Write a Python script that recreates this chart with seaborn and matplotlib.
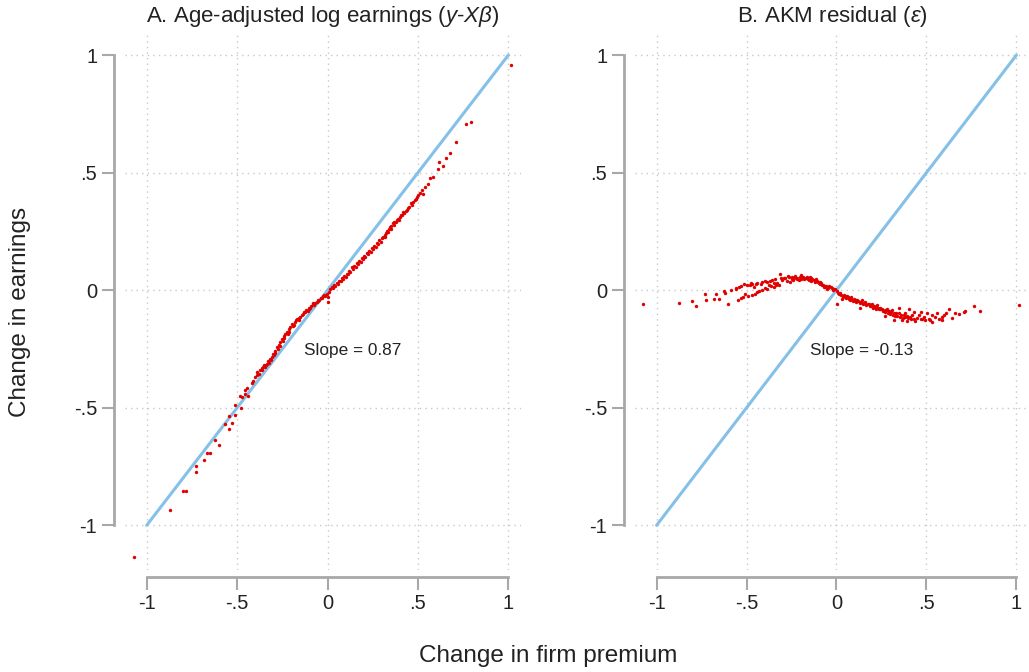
import numpy as np
import pandas as pd
import matplotlib
matplotlib.use("Agg")
import matplotlib.pyplot as plt
import seaborn as sns

# panel A: age-adjusted log earnings vs change in firm premium
a_x = [-1.070, -0.873, -0.802, -0.780, -0.729, -0.729, -0.683, -0.669, -0.651, -0.623,
       -0.599, -0.568, -0.544, -0.531, -0.544, -0.512, -0.512, -0.481, -0.475, -0.485,
       -0.455, -0.444, -0.457, -0.439, -0.420, -0.411, -0.402, -0.392, -0.389, -0.378,
       -0.372, -0.365, -0.360, -0.356, -0.350, -0.345, -0.337, -0.330, -0.325, -0.318,
       -0.309, -0.302, -0.296, -0.288, -0.281, -0.275, -0.268, -0.262, -0.254, -0.248,
       -0.240, -0.233, -0.226, -0.220, -0.212, -0.205, -0.198, -0.190, -0.182, -0.175,
       -0.167, -0.160, -0.152, -0.143, -0.134, -0.126, -0.118, -0.110, -0.102, -0.097,
       -0.090, -0.082, -0.075, -0.068, -0.060, -0.053, -0.045, -0.038, -0.032, -0.025,
       -0.018, -0.012, -0.005, 0.001, 0.004,
       -0.340, -0.315, -0.290, -0.265, -0.238, -0.214, -0.186, -0.158, -0.130, -0.105,
       -0.078, -0.050,
       0.010, 0.016, 0.023, 0.030, 0.037, 0.044, 0.051, 0.058, 0.065, 0.072,
       0.079, 0.086, 0.093, 0.100, 0.106, 0.113, 0.120, 0.127, 0.134, 0.141,
       0.148, 0.155, 0.162, 0.169, 0.176, 0.183, 0.189, 0.196, 0.203, 0.210,
       0.217, 0.224, 0.231, 0.238, 0.245, 0.252, 0.259, 0.266, 0.273, 0.280,
       0.287, 0.293, 0.300, 0.308, 0.316, 0.324, 0.331, 0.338, 0.346, 0.353,
       0.361, 0.370, 0.383, 0.392, 0.402, 0.413, 0.424, 0.439, 0.452, 0.466,
       0.475, 0.490, 0.503, 0.522, 0.527, 0.540, 0.558, 0.568, 0.586, 0.611,
       0.619, 0.636, 0.655, 0.679, 0.712, 0.766, 0.795, 1.014,
       0.318, 0.335, 0.350, 0.365, 0.378, 0.395, 0.408, 0.420, 0.432, 0.446,
       0.460, 0.483, 0.497, 0.512]
a_y = [-1.134, -0.933, -0.853, -0.853, -0.749, -0.773, -0.721, -0.692, -0.692, -0.635,
       -0.657, -0.569, -0.590, -0.566, -0.533, -0.490, -0.529, -0.502, -0.455, -0.452,
       -0.426, -0.417, -0.443, -0.448, -0.395, -0.387, -0.370, -0.362, -0.348, -0.355,
       -0.340, -0.330, -0.338, -0.327, -0.318, -0.325, -0.312, -0.300, -0.308, -0.292,
       -0.284, -0.270, -0.276, -0.258, -0.241, -0.250, -0.232, -0.222, -0.206, -0.216,
       -0.196, -0.188, -0.178, -0.186, -0.165, -0.158, -0.145, -0.152, -0.136, -0.128,
       -0.121, -0.128, -0.112, -0.104, -0.100, -0.092, -0.084, -0.090, -0.076, -0.074,
       -0.066, -0.060, -0.064, -0.054, -0.050, -0.046, -0.040, -0.034, -0.032, -0.026,
       -0.020, -0.024, -0.014, -0.029, -0.050,
       -0.318, -0.298, -0.266, -0.238, -0.202, -0.176, -0.146, -0.118, -0.094, -0.082,
       -0.056, -0.042,
       -0.008, 0.004, 0.014, 0.010, 0.022, 0.018, 0.031, 0.028, 0.040, 0.038,
       0.050, 0.046, 0.060, 0.056, 0.071, 0.068, 0.082, 0.078, 0.097, 0.090,
       0.104, 0.100, 0.114, 0.110, 0.124, 0.121, 0.135, 0.131, 0.146, 0.142,
       0.159, 0.154, 0.168, 0.164, 0.178, 0.174, 0.188, 0.185, 0.199, 0.196,
       0.212, 0.206, 0.220, 0.226, 0.234, 0.242, 0.250, 0.262, 0.267, 0.272,
       0.284, 0.290, 0.299, 0.305, 0.313, 0.322, 0.330, 0.341, 0.356, 0.362,
       0.377, 0.388, 0.405, 0.426, 0.409, 0.441, 0.452, 0.476, 0.483, 0.515,
       0.547, 0.529, 0.564, 0.583, 0.630, 0.707, 0.715, 0.959,
       0.228, 0.246, 0.262, 0.276, 0.292, 0.300, 0.320, 0.334, 0.338, 0.350,
       0.372, 0.384, 0.398, 0.412]

# panel B: AKM residual vs change in firm premium
b_x = [-1.074, -0.876, -0.802, -0.783, -0.733, -0.728, -0.681, -0.654, -0.672, -0.626,
       -0.620, -0.602, -0.589, -0.561, -0.543, -0.548, -0.533, -0.515, -0.506, -0.481,
       -0.478, -0.459, -0.450, -0.468, -0.441, -0.422, -0.413, -0.413, -0.385, -0.376,
       -0.385, -0.357, -0.348, -0.348, -0.330, -0.321, -0.315, -0.302, -0.293, -0.274,
       -0.265, -0.256, -0.237, -0.228, -0.209, -0.200, -0.191, -0.172, -0.163, -0.154,
       -0.144, -0.126, -0.117, -0.107, -0.098, -0.089, -0.079, -0.071, -0.061, -0.052,
       -0.033, -0.015, 0.004, 0.013, 0.022, 0.004, 0.031, 0.041, 0.059, 0.068,
       0.078, 0.096, 0.106, 0.115, 0.133, 0.143, 0.152, 0.161, 0.133, 0.180,
       0.189, 0.198, 0.207, 0.217, 0.226, 0.235, 0.244, 0.254, 0.272, 0.282,
       0.291, 0.272, 0.300, 0.309, 0.318, 0.318, 0.328, 0.346, 0.356, 0.350,
       0.365, 0.374, 0.383, 0.393, 0.393, 0.402, 0.411, 0.421, 0.430, 0.430,
       0.439, 0.457, 0.467, 0.467, 0.485, 0.494, 0.504, 0.513, 0.522, 0.532,
       0.532, 0.550, 0.559, 0.568, 0.587, 0.596, 0.587, 0.611, 0.624, 0.643,
       0.661, 0.679, 0.707, 0.717, 0.767, 0.800, 1.013,
       -0.250, -0.245, -0.240, -0.222, -0.218, -0.205, -0.196, -0.185, -0.180, -0.168,
       -0.158, -0.150, -0.140, -0.135, -0.122, -0.112, -0.102, -0.094, -0.084, -0.075,
       -0.066, -0.056, -0.045, -0.040, -0.025, -0.020, -0.008,
       0.008, 0.018, 0.027, 0.036, 0.046, 0.052, 0.064, 0.073, 0.083, 0.090,
       0.101, 0.110, 0.120, 0.128, 0.138, 0.148, 0.157, 0.166, 0.175, 0.185,
       0.194, 0.203, 0.212, 0.222, 0.231, 0.240, 0.250, 0.260, 0.268, 0.278,
       0.288, 0.296, 0.305, 0.314, 0.323, 0.338, 0.352, 0.368, 0.380, 0.398,
       0.416, 0.445, 0.476,
       -0.560, -0.530, -0.500, -0.470, -0.440, -0.400, -0.370, -0.340, -0.310, -0.285,
       -0.270, -0.520, -0.490, -0.455, -0.430, -0.400, -0.365, -0.335]
b_y = [-0.060, -0.054, -0.046, -0.067, -0.014, -0.040, -0.036, -0.036, -0.017, -0.003,
       -0.010, -0.057, 0.003, 0.007, 0.014, -0.043, -0.035, 0.026, -0.014, 0.021,
       0.031, 0.014, 0.026, -0.021, -0.007, 0.026, 0.035, 0.003, 0.035, 0.021,
       0.007, 0.043, 0.029, 0.014, 0.031, 0.021, 0.068, 0.043, 0.054, 0.040,
       0.057, 0.035, 0.050, 0.060, 0.043, 0.064, 0.054, 0.050, 0.057, 0.043,
       0.050, 0.043, 0.035, 0.040, 0.029, 0.026, 0.021, 0.014, 0.012, 0.007,
       0.014, 0.007, -0.003, -0.014, -0.011, -0.057, -0.036, -0.021, -0.026, -0.036,
       -0.028, -0.036, -0.043, -0.040, -0.050, -0.043, -0.054, -0.050, -0.074, -0.057,
       -0.064, -0.057, -0.068, -0.071, -0.064, -0.078, -0.074, -0.082, -0.085, -0.078,
       -0.088, -0.111, -0.092, -0.085, -0.097, -0.128, -0.099, -0.097, -0.104, -0.074,
       -0.128, -0.107, -0.099, -0.111, -0.131, -0.082, -0.114, -0.107, -0.121, -0.092,
       -0.131, -0.107, -0.121, -0.092, -0.114, -0.128, -0.097, -0.121, -0.128, -0.135,
       -0.107, -0.114, -0.099, -0.121, -0.114, -0.104, -0.128, -0.097, -0.082, -0.117,
       -0.099, -0.102, -0.092, -0.088, -0.068, -0.090, -0.061,
       0.048, 0.055, 0.042, 0.052, 0.046, 0.056, 0.048, 0.058, 0.046, 0.053,
       0.047, 0.055, 0.040, 0.048, 0.040, 0.046, 0.033, 0.036, 0.030, 0.024,
       0.020, 0.016, 0.010, 0.016, 0.008, 0.002, 0.004,
       -0.010, -0.018, -0.020, -0.028, -0.024, -0.032, -0.030, -0.040, -0.036, -0.044,
       -0.040, -0.048, -0.046, -0.054, -0.050, -0.058, -0.056, -0.062, -0.060, -0.068,
       -0.066, -0.074, -0.070, -0.078, -0.074, -0.082, -0.080, -0.088, -0.092, -0.086,
       -0.096, -0.100, -0.094, -0.104, -0.108, -0.110, -0.114, -0.118, -0.116, -0.120,
       -0.124, -0.118, -0.124,
       0.010, 0.018, 0.022, 0.028, 0.030, 0.040, 0.038, 0.048, 0.052, 0.050,
       0.062, -0.030, -0.024, -0.014, -0.002, 0.010, 0.016, 0.024]

diag = [-1, 1]
ticks = [-1, -0.5, 0, 0.5, 1]
tick_labels = ["-1", "-.5", "0", ".5", "1"]
titles = [r"A. Age-adjusted log earnings ($y$-$X\beta$)", r"B. AKM residual ($\varepsilon$)"]
slopes = ["Slope = 0.87", "Slope = -0.13"]

sns.set_theme(style="white")
plt.rcParams["font.family"] = ["Liberation Sans", "DejaVu Sans"]
plt.rcParams["mathtext.fontset"] = "custom"
plt.rcParams["mathtext.rm"] = "Liberation Sans"
plt.rcParams["mathtext.it"] = "Liberation Sans:italic"

fig = plt.figure(figsize=(10.29, 6.72), dpi=100)
W, H = 1029, 672
boxes = [(125, 521), (635, 1029)]
top, bottom = 33, 570

panels = [pd.DataFrame({"x": a_x, "y": a_y}), pd.DataFrame({"x": b_x, "y": b_y})]
spine_col = "#a8a8a8"

for i, df in enumerate(panels):
    l, r = boxes[i]
    ax = fig.add_axes([l / W, 1 - bottom / H, (r - l) / W, (bottom - top) / H])
    for t in ticks:
        ax.axhline(t, color="#c8c8c8", lw=1.0, ls=(0, (1, 3)), zorder=0)
        ax.axvline(t, color="#c8c8c8", lw=1.0, ls=(0, (1, 3)), zorder=0)
    sns.lineplot(x=diag, y=diag, ax=ax, color="#85c0e8", lw=2.2, zorder=2)
    sns.scatterplot(data=df, x="x", y="y", ax=ax, color="#e00000", s=6,
                    marker="o", linewidth=0, zorder=3)
    ax.set_xlim(-1.12, 1.07)
    ax.set_ylim(-1.19, 1.094)
    ax.set_xticks(ticks)
    ax.set_xticklabels(tick_labels)
    ax.set_yticks(ticks)
    ax.set_yticklabels(tick_labels)
    ax.set_xlabel("")
    ax.set_ylabel("")
    sns.despine(ax=ax, offset={"left": 8, "bottom": 5})
    for s in ["left", "bottom"]:
        ax.spines[s].set_color(spine_col)
        ax.spines[s].set_linewidth(2)
        ax.spines[s].set_bounds(-1, 1)
    ax.tick_params(axis="both", which="both", direction="out", length=9, width=1.5,
                   color=spine_col, labelsize=14.5, pad=3, left=True, bottom=True,
                   labelcolor="#222222")
    ax.set_title(titles[i], fontsize=16, pad=8, color="#222222")
    ax.text(-0.13 if i == 0 else -0.15, -0.256, slopes[i], fontsize=12.4,
            ha="left", va="center", color="#222222")

fig.text(20 / W, 1 - 312 / H, "Change in earnings", rotation=90, fontsize=17.5,
         ha="center", va="center", color="#222222")
fig.text(548 / W, 1 - 656 / H, "Change in firm premium", fontsize=17.5,
         ha="center", va="center", color="#222222")

fig.savefig("out.png", dpi=100)
